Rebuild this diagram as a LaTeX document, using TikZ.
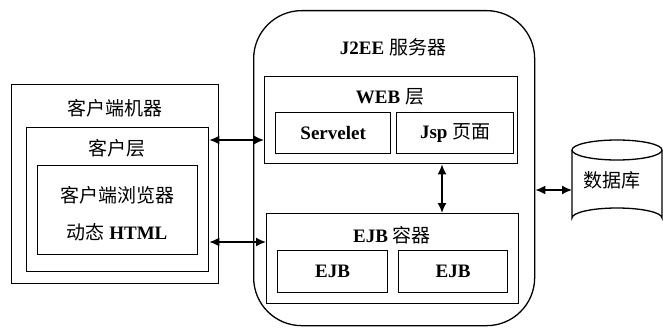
\documentclass[tikz,border=0pt]{standalone}
\usepackage{fontspec}
\setmainfont{Liberation Serif}
\newfontfamily\cjk{Noto Sans CJK SC}
\newcommand{\zh}[1]{{\cjk\mdseries #1}}
\usetikzlibrary{arrows.meta}
\begin{document}
\begin{tikzpicture}[x=1pt,y=-1pt,
 box/.style={draw, line width=1.3pt, inner sep=0pt, anchor=north west},
 lbl/.style={font=\fontsize{19}{21}\selectfont\bfseries, inner sep=0pt},
 link/.style={{Latex[length=10pt,width=9pt]}-{Latex[length=10pt,width=9pt]}, line width=1.6pt}]
\useasboundingbox (0,0) rectangle (663,334);
% client side
\node[box, minimum width=207, minimum height=199] (client) at (11,84) {};
\node[box, minimum width=182, minimum height=144] (clayer) at (26,127) {};
\node[box, minimum width=160, minimum height=89] (browser) at (37,165) {};
\node[lbl] (tclient) at (115,108) {\zh{客户端机器}};
\node[lbl] (tclayer) at (117,148) {\zh{客户层}};
\node[lbl] (tbrowser) at (117,195) {\zh{客户端浏览器}};
\node[lbl] (thtml) at (117,232) {\zh{动态} HTML};
% server
\node[box, rounded corners=48pt, minimum width=281, minimum height=315] (server) at (253,10) {};
\node[lbl] (tserver) at (393,47) {J2EE \zh{服务器}};
\node[box, minimum width=253, minimum height=87] (web) at (264,76) {};
\node[lbl] (tweb) at (390,97) {WEB \zh{层}};
\node[box, minimum width=115, minimum height=41] (servelet) at (275,112) {};
\node[box, minimum width=117, minimum height=41] (jsp) at (396,112) {};
\node[lbl] (tservelet) at (servelet.center) {Servelet};
\node[lbl] (tjsp) at (jsp.center) {Jsp \zh{页面}};
\node[box, minimum width=252, minimum height=90] (ejbc) at (266,213) {};
\node[lbl] (tejbc) at (392,235) {EJB \zh{容器}};
\node[box, minimum width=110, minimum height=42] (ejb1) at (277,250) {};
\node[box, minimum width=109, minimum height=42] (ejb2) at (398,250) {};
\node[lbl] (tejb1) at (ejb1.center) {EJB};
\node[lbl] (tejb2) at (ejb2.center) {EJB};
% database
\draw[line width=1.3pt] (572,150) -- (572,218) arc[start angle=180, end angle=360, x radius=45, y radius=10] -- (662,150);
\draw[line width=1.3pt] (617,150) ellipse[x radius=45, y radius=10];
\node[lbl] (db) at (612,180) {\zh{数据库}};
\coordinate (dbw) at (572,190);
% connectors
\draw[link] (clayer.east |- 0,140) -- (web.west |- 0,140);
\draw[link] (clayer.east |- 0,242) -- (ejbc.west |- 0,242);
\draw[link] (web.south -| 442,0) -- (ejbc.north -| 442,0);
\draw[link] (server.east |- dbw) -- (dbw);
\end{tikzpicture}
\end{document}
